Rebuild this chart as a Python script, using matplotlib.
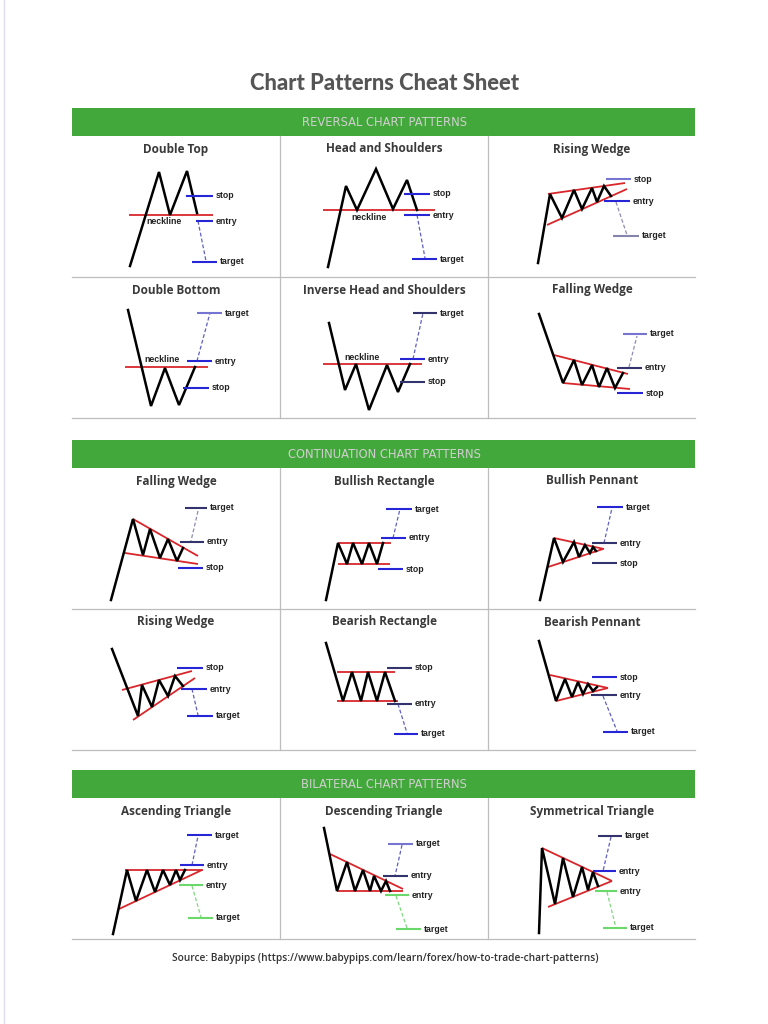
import matplotlib
matplotlib.use("Agg")
import matplotlib.pyplot as plt

# -----------------------------
# Page text
# -----------------------------
page_title = "Chart Patterns Cheat Sheet"
source_note = "Source: Babypips (https://www.babypips.com/learn/forex/how-to-trade-chart-patterns)"
section_names = ["REVERSAL CHART PATTERNS", "CONTINUATION CHART PATTERNS", "BILATERAL CHART PATTERNS"]
section_rows = [2, 2, 1]
section_titles = [
    ["Double Top", "Head and Shoulders", "Rising Wedge",
     "Double Bottom", "Inverse Head and Shoulders", "Falling Wedge"],
    ["Falling Wedge", "Bullish Rectangle", "Bullish Pennant",
     "Rising Wedge", "Bearish Rectangle", "Bearish Pennant"],
    ["Ascending Triangle", "Descending Triangle", "Symmetrical Triangle"],
]

# -----------------------------
# Pattern sketches (cell units: x right, y down, cell is 208 x 141)
# price = black zigzag, bounds = red trend lines,
# levels = (label, x0, x1, y, kind), moves = dashed projections
# -----------------------------
double_top_price = [(58, 130), (87, 36), (98, 79), (115, 35), (125, 77)]
double_top_bounds = [((57, 79), (141, 79))]
double_top_levels = [("stop", 114, 141, 60, "blue"), ("entry", 124, 141, 85, "blue"),
                     ("target", 120, 145, 126, "blue")]
double_top_moves = [((126, 85), (134, 125), "blue")]
double_top_notes = [("neckline", 92, 86)]

head_shoulders_price = [(48, 131), (66, 50), (77, 74), (96, 33), (113, 73), (127, 44), (137, 74)]
head_shoulders_bounds = [((43, 74), (155, 74))]
head_shoulders_levels = [("stop", 124, 150, 58, "blue"), ("entry", 124, 150, 79, "blue"),
                         ("target", 132, 157, 123, "blue")]
head_shoulders_moves = [((137, 79), (145, 122), "blue")]
head_shoulders_notes = [("neckline", 89, 82)]

rising_wedge_rev_price = [(50, 127), (62, 58), (74, 82), (86, 54), (94, 73), (104, 52),
                          (109, 66), (116, 50), (123, 60)]
rising_wedge_rev_bounds = [((60, 58), (137, 47)), ((59, 89), (139, 53))]
rising_wedge_rev_levels = [("stop", 118, 143, 43, "violet"), ("entry", 116, 142, 65, "blue"),
                           ("target", 125, 151, 100, "grey")]
rising_wedge_rev_moves = [((128, 66), (139, 99), "grey")]

double_bottom_price = [(56, 33), (79, 129), (93, 91), (107, 128), (123, 90)]
double_bottom_bounds = [((53, 90), (136, 90))]
double_bottom_levels = [("target", 125, 150, 36, "violet"), ("entry", 115, 140, 84, "blue"),
                        ("stop", 111, 137, 111, "blue")]
double_bottom_moves = [((125, 84), (138, 36), "blue")]
double_bottom_notes = [("neckline", 90, 83)]

inverse_hs_price = [(49, 46), (65, 113), (76, 87), (89, 133), (107, 88), (118, 115), (130, 87)]
inverse_hs_bounds = [((43, 87), (142, 87))]
inverse_hs_levels = [("target", 133, 157, 36, "navy"), ("entry", 120, 145, 82, "blue"),
                     ("stop", 120, 145, 105, "navy")]
inverse_hs_moves = [((133, 82), (143, 36), "blue")]
inverse_hs_notes = [("neckline", 82, 80)]

falling_wedge_rev_price = [(51, 37), (75, 106), (86, 83), (94, 108), (104, 88), (111, 110),
                           (119, 91), (127, 111), (135, 96)]
falling_wedge_rev_bounds = [((66, 78), (140, 97)), ((75, 106), (142, 112))]
falling_wedge_rev_levels = [("target", 135, 159, 57, "violet"), ("entry", 129, 154, 91, "navy"),
                            ("stop", 129, 155, 116, "blue")]
falling_wedge_rev_moves = [((141, 90), (149, 59), "grey")]

falling_wedge_cont_price = [(39, 132), (61, 51), (71, 87), (78, 61), (88, 90), (96, 71),
                            (105, 93), (111, 80)]
falling_wedge_cont_bounds = [((61, 51), (126, 88)), ((53, 85), (126, 96))]
falling_wedge_cont_levels = [("target", 113, 135, 40, "navy"), ("entry", 108, 132, 74, "navy"),
                             ("stop", 106, 131, 100, "blue")]
falling_wedge_cont_moves = [((126, 43), (119, 73), "grey")]

bullish_rect_price = [(46, 132), (58, 75), (67, 96), (73, 75), (82, 96), (89, 75), (97, 96), (103, 75)]
bullish_rect_bounds = [((58, 75), (111, 75)), ((58, 96), (110, 96))]
bullish_rect_levels = [("target", 106, 132, 41, "blue"), ("entry", 101, 126, 70, "blue"),
                       ("stop", 98, 123, 101, "blue")]
bullish_rect_moves = [((113, 70), (120, 41), "blue")]

bullish_pennant_price = [(52, 132), (66, 70), (75, 94), (86, 74), (91, 89), (97, 77),
                         (102, 85), (105, 79), (108, 83)]
bullish_pennant_bounds = [((66, 70), (116, 81)), ((60, 99), (115, 81))]
bullish_pennant_levels = [("target", 109, 135, 39, "blue"), ("entry", 104, 129, 75, "navy"),
                          ("stop", 104, 129, 95, "navy")]
bullish_pennant_moves = [((116, 75), (124, 40), "blue")]

rising_wedge_cont_price = [(40, 40), (66, 107), (70, 76), (80, 98), (87, 71), (96, 87),
                           (103, 67), (111, 77)]
rising_wedge_cont_bounds = [((50, 81), (120, 62)), ((61, 111), (123, 69))]
rising_wedge_cont_levels = [("stop", 105, 131, 59, "blue"), ("entry", 109, 135, 80, "blue"),
                            ("target", 115, 141, 107, "blue")]
rising_wedge_cont_moves = [((120, 80), (126, 106), "blue")]

bearish_rect_price = [(46, 34), (63, 92), (72, 63), (81, 92), (88, 63), (97, 92), (105, 63), (115, 92)]
bearish_rect_bounds = [((57, 63), (115, 63)), ((57, 92), (118, 92))]
bearish_rect_levels = [("stop", 107, 132, 59, "navy"), ("entry", 107, 132, 95, "navy"),
                       ("target", 114, 138, 125, "blue")]
bearish_rect_moves = [((118, 95), (127, 124), "blue")]

bearish_pennant_price = [(51, 32), (68, 92), (77, 70), (84, 88), (90, 73), (95, 85),
                         (100, 75), (105, 82), (109, 78)]
bearish_pennant_bounds = [((62, 66), (120, 79)), ((68, 92), (120, 79))]
bearish_pennant_levels = [("stop", 104, 129, 68, "blue"), ("entry", 103, 129, 86, "navy"),
                          ("target", 115, 140, 123, "blue")]
bearish_pennant_moves = [((115, 87), (129, 122), "blue")]

asc_triangle_price = [(41, 136), (55, 72), (64, 103), (75, 72), (83, 94), (91, 72), (98, 87),
                      (104, 72), (108, 82), (113, 72)]
asc_triangle_bounds = [((53, 72), (131, 72)), ((47, 111), (130, 72))]
asc_triangle_levels = [("target", 115, 140, 37, "blue"), ("entry", 108, 132, 67, "blue"),
                       ("entry", 107, 131, 87, "green"), ("target", 116, 141, 120, "green")]
asc_triangle_moves = [((120, 67), (126, 38), "blue"), ((120, 88), (129, 119), "green")]

desc_triangle_price = [(44, 30), (57, 93), (67, 64), (75, 93), (83, 72), (90, 93), (94, 78),
                       (101, 93), (106, 83), (110, 93)]
desc_triangle_bounds = [((50, 56), (123, 91)), ((57, 93), (123, 93))]
desc_triangle_levels = [("target", 108, 133, 46, "violet"), ("entry", 103, 128, 78, "navy"),
                        ("entry", 105, 129, 97, "green"), ("target", 116, 141, 131, "green")]
desc_triangle_moves = [((122, 47), (115, 78), "blue"), ((116, 98), (127, 130), "green")]

sym_triangle_price = [(51, 135), (54, 50), (67, 106), (75, 60), (85, 99), (94, 69), (100, 92),
                      (105, 74), (110, 88)]
sym_triangle_bounds = [((54, 50), (124, 83)), ((60, 109), (124, 83))]
sym_triangle_levels = [("target", 110, 134, 38, "navy"), ("entry", 105, 128, 73, "blue"),
                       ("entry", 107, 129, 93, "green"), ("target", 115, 139, 130, "green")]
sym_triangle_moves = [((123, 39), (115, 73), "blue"), ((119, 94), (128, 130), "green")]

patterns = [
    [(double_top_price, double_top_bounds, double_top_levels, double_top_moves, double_top_notes),
     (head_shoulders_price, head_shoulders_bounds, head_shoulders_levels, head_shoulders_moves, head_shoulders_notes),
     (rising_wedge_rev_price, rising_wedge_rev_bounds, rising_wedge_rev_levels, rising_wedge_rev_moves, []),
     (double_bottom_price, double_bottom_bounds, double_bottom_levels, double_bottom_moves, double_bottom_notes),
     (inverse_hs_price, inverse_hs_bounds, inverse_hs_levels, inverse_hs_moves, inverse_hs_notes),
     (falling_wedge_rev_price, falling_wedge_rev_bounds, falling_wedge_rev_levels, falling_wedge_rev_moves, [])],
    [(falling_wedge_cont_price, falling_wedge_cont_bounds, falling_wedge_cont_levels, falling_wedge_cont_moves, []),
     (bullish_rect_price, bullish_rect_bounds, bullish_rect_levels, bullish_rect_moves, []),
     (bullish_pennant_price, bullish_pennant_bounds, bullish_pennant_levels, bullish_pennant_moves, []),
     (rising_wedge_cont_price, rising_wedge_cont_bounds, rising_wedge_cont_levels, rising_wedge_cont_moves, []),
     (bearish_rect_price, bearish_rect_bounds, bearish_rect_levels, bearish_rect_moves, []),
     (bearish_pennant_price, bearish_pennant_bounds, bearish_pennant_levels, bearish_pennant_moves, [])],
    [(asc_triangle_price, asc_triangle_bounds, asc_triangle_levels, asc_triangle_moves, []),
     (desc_triangle_price, desc_triangle_bounds, desc_triangle_levels, desc_triangle_moves, []),
     (sym_triangle_price, sym_triangle_bounds, sym_triangle_levels, sym_triangle_moves, [])],
]

# -----------------------------
# Styles / layout (pixels on a 768 x 1024 page)
# -----------------------------
W, H = 768, 1024
GREEN = "#43a83b"
GRID = "#bdbdbd"
level_colors = {"blue": "#2626d6", "navy": "#33336e", "violet": "#7676d2", "grey": "#8484ac", "green": "#6ad86a"}
move_colors = {"blue": "#5f5fc4", "grey": "#8c8cb0", "green": "#80d880"}

left, right = 72, 695
col_x = [72, 280, 488, 695]
band_tops = [108, 440, 770]
band_h = 28
row_h = 141

fig = plt.figure(figsize=(W / 100, H / 100), dpi=100)
page = fig.add_axes([0, 0, 1, 1])
page.set_xlim(0, W)
page.set_ylim(H, 0)
page.axis("off")

page.axvline(3.5, color="#dcdce6", lw=1)
page.text(W / 2 + 1, 83, page_title, ha="center", va="center", fontsize=15.8,
          fontweight="black", color="#555555", family="Lato")
page.text(385, 958, source_note, ha="center", va="center", fontsize=7.3,
          fontweight="semibold", color="#333333", family="Open Sans")


def draw_cell(ax, title, price, bounds, levels, moves, notes):
    ax.set_xlim(0, 208)
    ax.set_ylim(row_h, 0)
    ax.axis("off")
    ax.text(104, 13, title, ha="center", va="center", fontsize=8.5,
            fontweight="bold", color="#3a3a3a", family="Open Sans")
    for (xa, ya), (xb, yb) in bounds:
        ax.plot([xa, xb], [ya, yb], color="#d9262b", lw=1.3, solid_capstyle="butt")
    xs = [p[0] for p in price]
    ys = [p[1] for p in price]
    ax.plot(xs, ys, color="black", lw=1.8, solid_joinstyle="miter")
    for (xa, ya), (xb, yb), kind in moves:
        ax.plot([xa, xb], [ya, yb], color=move_colors[kind], lw=0.9, ls=(0, (3, 1.8)))
    for label, x0, x1, y, kind in levels:
        ax.plot([x0, x1], [y, y], color=level_colors[kind], lw=1.5, solid_capstyle="butt")
        ax.text(x1 + 3, y, label, ha="left", va="center", fontsize=6.3,
                fontweight="bold", color="#222222", family="Liberation Sans")
    for label, x, y in notes:
        ax.text(x, y, label, ha="center", va="center", fontsize=6.3,
                fontweight="bold", color="#222222", family="Liberation Sans")


for s, name in enumerate(section_names):
    top = band_tops[s]
    page.add_patch(plt.Rectangle((left, top), right - left, band_h, color=GREEN, lw=0))
    page.text(W / 2, top + band_h / 2 + 0.5, name, ha="center", va="center", fontsize=8.3,
              color="#cfcfcf", family="DejaVu Sans")
    body_top = top + band_h
    body_bot = body_top + section_rows[s] * row_h
    for r in range(1, section_rows[s] + 1):
        page.plot([left, right], [body_top + r * row_h] * 2, color=GRID, lw=0.9)
    for cx in col_x[1:3]:
        page.plot([cx, cx], [body_top, body_bot], color=GRID, lw=0.9)
    for i, title in enumerate(section_titles[s]):
        r, c = divmod(i, 3)
        x0 = col_x[c]
        y0 = body_top + r * row_h
        ax = fig.add_axes([x0 / W, 1 - (y0 + row_h) / H, 208 / W, row_h / H])
        draw_cell(ax, title, *patterns[s][i])

fig.savefig("out.png", dpi=100)
